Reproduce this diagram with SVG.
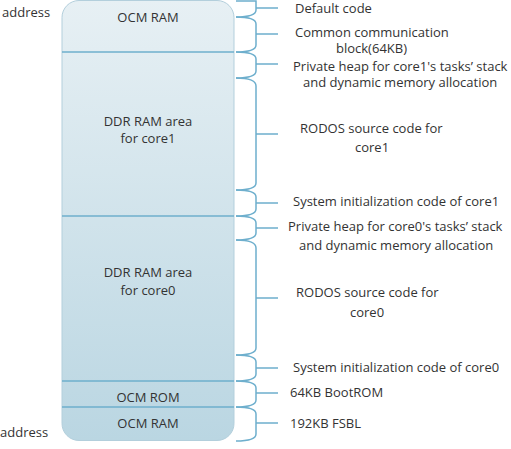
<svg xmlns="http://www.w3.org/2000/svg" width="511" height="449" viewBox="0 0 511 449">
<defs>
<linearGradient id="g" x1="0" y1="0" x2="0" y2="1">
<stop offset="0" stop-color="#e7f0f4"/>
<stop offset="1" stop-color="#bad6e2"/>
</linearGradient>
<style>
.t{font-family:"Open Sans","Noto Sans",sans-serif;font-size:13px;fill:#333;}
.c{text-anchor:middle;}
.b{fill:none;stroke:#6eafcd;stroke-width:1.5;}
.d{stroke:#6eafcd;stroke-width:1.3;}
</style>
</defs>
<rect width="511" height="449" fill="#fff"/>
<g id="memory">
<rect x="62" y="0.5" width="172" height="440" rx="17" fill="url(#g)" stroke="#b3cfdc" stroke-width="1"/>
<line class="d" x1="62" y1="52" x2="234" y2="52"/>
<line class="d" x1="62" y1="216" x2="234" y2="216"/>
<line class="d" x1="62" y1="381" x2="234" y2="381"/>
<line class="d" x1="62" y1="407" x2="234" y2="407"/>
</g>
<g id="ocm-ram-top"><text class="t c" x="148" y="22">OCM RAM</text></g>
<g id="ddr-core1"><text class="t c" x="148" y="126">DDR RAM area</text><text class="t c" x="148" y="143">for core1</text></g>
<g id="ddr-core0"><text class="t c" x="148" y="277">DDR RAM area</text><text class="t c" x="148" y="295">for core0</text></g>
<g id="ocm-rom"><text class="t c" x="148" y="402">OCM ROM</text></g>
<g id="ocm-ram-bottom"><text class="t c" x="148" y="428">OCM RAM</text></g>
<g id="addr-top"><text class="t" x="2" y="17">address</text></g>
<g id="addr-bottom"><text class="t" x="0" y="437">address</text></g>
<g id="connectors">
<path class="b" d="M236,1 L256,1 L256,10 C256,15 248,17 236,17 M256,8 L278,8"/>
<path class="b" d="M236,17 C248,17 256,19 256,24 L256,45 C256,50 248,52 236,52 M256,34 L278,34"/>
<path class="b" d="M236,52 C248,52 256,54 256,59 L256,71 C256,76 248,78 236,78 M256,64 L278,64"/>
<path class="b" d="M236,78 C248,78 256,80 256,86 L256,183 C256,188 248,190 236,190 M256,134 L278,134"/>
<path class="b" d="M236,190 C248,190 256,192 256,197 L256,209 C256,214 248,216 236,216 M256,203 L278,203"/>
<path class="b" d="M236,216 C248,216 256,218 256,223 L256,233 C256,238 248,240 236,240 M256,228 L278,228"/>
<path class="b" d="M236,240 C248,240 256,242 256,248 L256,348 C256,353 248,355 236,355 M256,298 L278,298"/>
<path class="b" d="M236,355 C248,355 256,357 256,362 L256,374 C256,379 248,381 236,381 M256,368 L278,368"/>
<path class="b" d="M236,381 C248,381 256,383 256,388 L256,400 C256,405 248,407 236,407 M256,393 L278,393"/>
<path class="b" d="M236,407 C248,407 256,409 256,414 L256,434 C256,439 248,441 236,441 M256,423 L278,423"/>
</g>
<g id="labels">
<text class="t" x="295" y="13">Default code</text>
<text class="t" x="295" y="37">Common communication</text>
<text class="t" x="336" y="53">block(64KB)</text>
<text class="t" x="293" y="71">Private heap for core1's tasks’ stack</text>
<text class="t" x="303" y="87">and dynamic memory allocation</text>
<text class="t" x="300" y="133">RODOS source code for</text>
<text class="t" x="355" y="152">core1</text>
<text class="t" x="293" y="206">System initialization code of core1</text>
<text class="t" x="288" y="231">Private heap for core0's tasks’ stack</text>
<text class="t" x="299" y="250">and dynamic memory allocation</text>
<text class="t" x="296" y="297">RODOS source code for</text>
<text class="t" x="350" y="317">core0</text>
<text class="t" x="293" y="372">System initialization code of core0</text>
<text class="t" x="290" y="397">64KB BootROM</text>
<text class="t" x="290" y="428">192KB FSBL</text>
</g>
</svg>
